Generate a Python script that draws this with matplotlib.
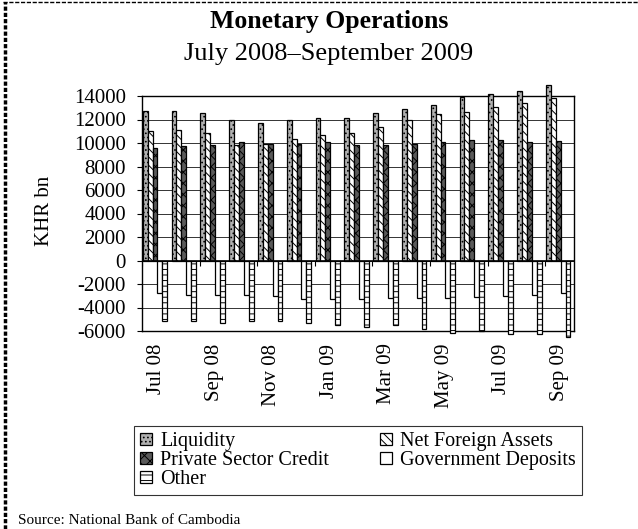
import matplotlib
matplotlib.use("Agg")
import matplotlib.pyplot as plt
import numpy as np
from matplotlib.lines import Line2D

plt.rcParams['font.family'] = ['Liberation Serif', 'DejaVu Serif']
plt.rcParams['hatch.linewidth'] = 0.7

months = ["Jul 08", "Aug 08", "Sep 08", "Oct 08", "Nov 08", "Dec 08", "Jan 09", "Feb 09",
          "Mar 09", "Apr 09", "May 09", "Jun 09", "Jul 09", "Aug 09", "Sep 09"]
liquidity = [12730, 12730, 12590, 11970, 11690, 11970, 12110, 12110,
             12590, 12900, 13240, 13890, 14170, 14420, 14900]
net_foreign_assets = [10990, 11130, 10850, 9860, 9940, 10370, 10650, 10850,
                      11320, 11970, 12450, 12620, 13100, 13380, 13800]
private_sector_credit = [9580, 9720, 9860, 10080, 9940, 9940, 10080, 9860,
                         9860, 9920, 10080, 10230, 10230, 10080, 10200]
government_deposits = [-2770, -2910, -2910, -2910, -3060, -3260, -3260, -3260,
                       -3200, -3200, -3200, -3110, -3060, -2910, -2770]
other = [-5170, -5170, -5340, -5170, -5170, -5340, -5460, -5630,
         -5460, -5830, -6140, -5970, -6260, -6260, -6490]

series_names = ["Liquidity", "Net Foreign Assets", "Private Sector Credit",
                "Government Deposits", "Other"]
yticks = list(range(-6000, 14001, 2000))

W, H = 638, 529
fig = plt.figure(figsize=(W / 100, H / 100), dpi=100)
ax = fig.add_axes([142 / W, 1 - 331 / H, (574 - 142) / W, (331 - 96) / H])

styles = [
    dict(facecolor='#b0b0b0', hatch='....'),
    dict(facecolor='white', hatch='\\\\\\\\'),
    dict(facecolor='#5a5a5a', hatch='xxx'),
    dict(facecolor='white', hatch=None),
    dict(facecolor='white', hatch='---'),
]
data = [liquidity, net_foreign_assets, private_sector_credit, government_deposits, other]

x = np.arange(len(months))
bw = 0.17
handles = []
for i, (vals, st) in enumerate(zip(data, styles)):
    bars = ax.bar(x + (i - 2) * bw - 0.05, vals, width=bw, edgecolor='black', linewidth=0.9,
                  label=series_names[i], zorder=3, **st)
    for b in bars:
        b.set_clip_on(False)
    handles.append(bars)

ax.set_ylim(-6000, 14000)
ax.set_xlim(-0.5, len(months) - 0.5)
ax.set_yticks(yticks)
ax.set_yticklabels([str(v) for v in yticks], fontsize=15)
ax.set_xticks(x[::2])
ax.set_xticklabels(months[::2], rotation=90, fontsize=15)
ax.tick_params(axis='x', length=0, pad=9)
ax.tick_params(axis='y', direction='out', length=3.6, width=0.8, pad=8)
ax.grid(axis='y', color='#333333', linewidth=0.7, zorder=0)
ax.set_axisbelow(True)
for s in ax.spines.values():
    s.set_color('black')
    s.set_linewidth(1.0)
ax.axhline(0, color='black', linewidth=1.2, zorder=4)
ax.vlines(np.arange(-0.5, len(months) - 0.5, 2), -450, 0, color='black', linewidth=0.8, zorder=4)

fig.text(45 / W, 1 - 211 / H, "KHR bn", rotation=90, ha='center', va='center', fontsize=15)
fig.text(329 / W, 1 - 28 / H, "Monetary Operations", ha='center', va='baseline',
         fontsize=18.5, fontweight='bold')
fig.text(329 / W, 1 - 60 / H, "July 2008\u2013September 2009", ha='center', va='baseline',
         fontsize=19)

order = [0, 2, 4, 1, 3]
leg = fig.legend([handles[k] for k in order], [series_names[k] for k in order],
                 loc='upper left', bbox_to_anchor=(134 / W, 1 - 426 / H, 448 / W, 0),
                 mode='expand', ncol=2, frameon=True, fancybox=False, shadow=False,
                 fontsize=14.5, borderpad=0.3, handlelength=0.6, handleheight=0.6,
                 handletextpad=0.4, labelspacing=0.0, borderaxespad=0, columnspacing=1)
leg.get_frame().set_edgecolor('black')
leg.get_frame().set_linewidth(0.8)

fig.text(18 / W, 2 / H, "Source: National Bank of Cambodia", ha='left', va='bottom', fontsize=11)

fig.add_artist(Line2D([3 / W, 1], [1 - 2 / H, 1 - 2 / H], color='black', linewidth=1.0,
                      dashes=(3, 1.2), transform=fig.transFigure))
fig.add_artist(Line2D([4.5 / W, 4.5 / W], [0, 1 - 2 / H], color='black', linewidth=2.5,
                      dashes=(1.2, 0.6), transform=fig.transFigure))

fig.savefig("out.png", dpi=100)
